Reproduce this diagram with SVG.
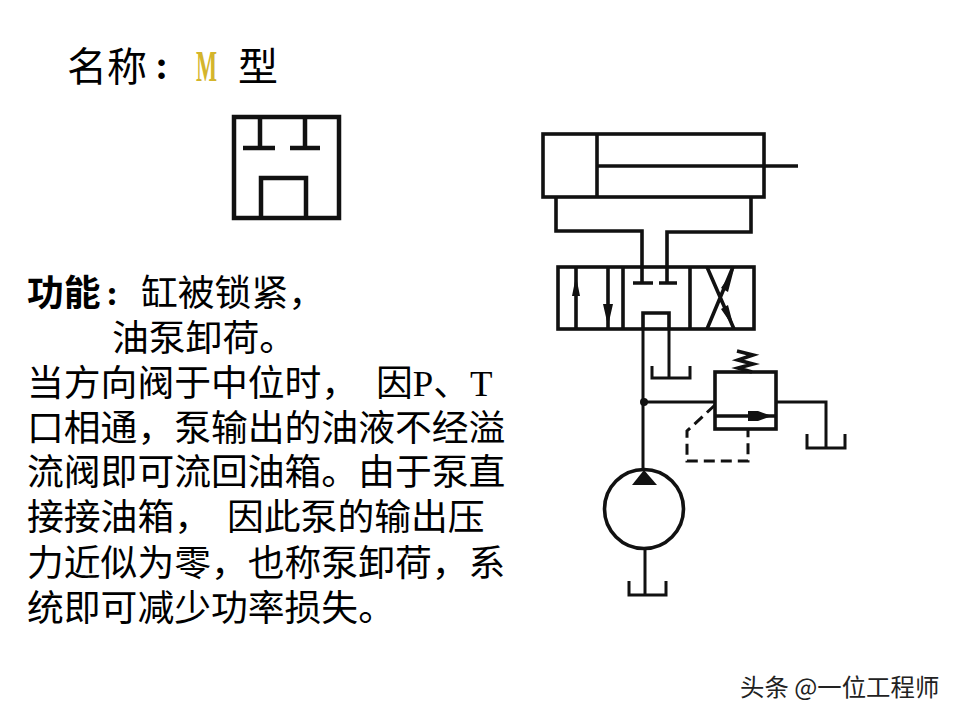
<svg xmlns="http://www.w3.org/2000/svg" width="960" height="720" viewBox="0 0 960 720">
<style>
.l{fill:none;stroke:#111;stroke-width:3.6;stroke-linejoin:miter}
.t{stroke-width:3}
.d{stroke-dasharray:11 6}
.f{fill:#111;stroke:none}
text{font-family:"Liberation Serif","Noto Sans CJK SC",serif;fill:#000}
.b{font-size:36.8px}
.h{font-size:40px}
</style>
<rect width="960" height="720" fill="#fff"/>
<g id="title">
<text class="h" x="67" y="81">名称</text>
<text class="h" x="155" y="79" font-weight="bold">:</text>
<text x="196" y="81" font-size="44" font-weight="bold" style="fill:#d4b52c" textLength="21" lengthAdjust="spacingAndGlyphs">M</text>
<text class="h" x="238" y="81">型</text>
</g>
<g id="m-symbol">
<rect class="l" x="234" y="117" width="105" height="101" style="stroke-width:4.5"/>
<path class="l" style="stroke-width:4.5" d="M260 117V148M243 148H275M305 117V148M290 148H320M261 218V178H306V218"/>
</g>
<g id="description">
<text class="b" x="27" y="306" font-weight="bold">功能</text>
<text class="b" x="106" y="305" font-weight="bold">:</text>
<text class="b" x="141" y="306">缸被锁紧，</text>
<text class="b" x="112" y="351">油泵卸荷。</text>
<text class="b" x="27" y="396">当方向阀于中位时，</text>
<text class="b" x="376" y="396">因P、T</text>
<text class="b" x="27" y="441">口相通，泵输出的油液不经溢</text>
<text class="b" x="27" y="485">流阀即可流回油箱。由于泵直</text>
<text class="b" x="27" y="530">接接油箱，</text>
<text class="b" x="227" y="530">因此泵的输出压</text>
<text class="b" x="27" y="576">力近似为零，也称泵卸荷，系</text>
<text class="b" x="27" y="621">统即可减少功率损失。</text>
</g>
<g id="cylinder">
<rect class="l" x="543" y="134" width="221" height="63"/>
<path class="l" d="M597 134V197M597 166H798"/>
</g>
<g id="valve">
<rect class="l" x="558" y="267" width="196" height="62"/>
<path class="l" d="M623 267V329M690 267V329M576 267V329M608 267V329M642 267V283M667 267V283M633 283H653M659 283H677M643 329V313H669V329M707 267L734 329M733 267L707 329"/>
<path class="f" d="M576 276l-4 20h8zM608 326l-5-22h10zM734 269l-13 19 7 4zM734 328l-13-19 7-4z"/>
</g>
<g id="relief-valve">
<rect class="l" x="715" y="372" width="61" height="57"/>
<path class="l" d="M715 416H776"/>
<path class="f" d="M748 411h10l14 5-14 5h-10z"/>
<path class="l" d="M737 351L753 355L738 360L753 364L738 368L752 372"/>
</g>
<g id="pump">
<circle class="l" cx="644" cy="509" r="39.5"/>
<path class="f" d="M644 470L632 485H657z"/>
</g>
<g id="connectors">
<path class="l" d="M556 197V231H642V267M751 197V232H667V267"/>
<path class="l t" d="M643 329V470M669 329V377M652 366V378H690V366M644 402H715M776 402H826V448M807 434V448H845V434M645 548V595M629 581V595H666V581"/>
<circle class="f" cx="644" cy="402" r="4"/>
<path class="l t d" d="M715 405L687 431V461H748V430"/>
</g>
<g id="watermark">
<text x="740" y="696" font-size="24.4" style="font-family:'Noto Sans CJK SC',sans-serif;fill:#222;paint-order:stroke;stroke:#fff;stroke-width:1.5px">头条 @一位工程师</text>
</g>
</svg>
